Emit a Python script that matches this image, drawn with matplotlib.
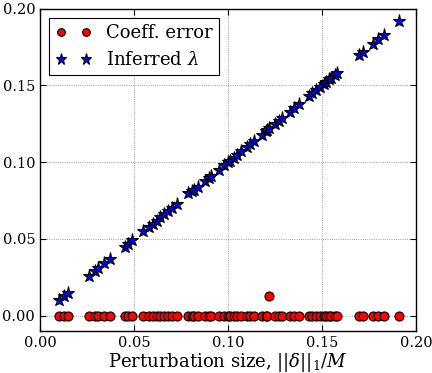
import matplotlib as mpl
mpl.use("Agg")
import matplotlib.pyplot as plt
import numpy as np

mpl.rcParams.update({
    "font.family": "serif",
    "font.serif": ["DejaVu Serif"],
    "mathtext.fontset": "dejavuserif",
    "xtick.direction": "in",
    "ytick.direction": "in",
    "xtick.top": True,
    "ytick.right": True,
    "xtick.major.size": 4,
    "ytick.major.size": 4,
    "axes.linewidth": 1.0,
})

# perturbation sizes ||delta||_1 / M
pert = [0.010, 0.013, 0.015, 0.026, 0.029, 0.031, 0.034, 0.037, 0.045, 0.047,
        0.049, 0.055, 0.058, 0.060, 0.062, 0.064, 0.066, 0.068, 0.070, 0.073,
        0.079, 0.081, 0.082, 0.084, 0.088, 0.090, 0.091, 0.095, 0.098, 0.100,
        0.101, 0.103, 0.105, 0.107, 0.110, 0.112, 0.114, 0.118, 0.120, 0.121,
        0.122, 0.125, 0.127, 0.129, 0.133, 0.135, 0.138, 0.143, 0.145, 0.147,
        0.149, 0.151, 0.152, 0.154, 0.155, 0.157, 0.158, 0.170, 0.172, 0.177,
        0.180, 0.183, 0.191]

# inferred lambda
lam = [0.010, 0.013, 0.015, 0.026, 0.029, 0.031, 0.034, 0.037, 0.045, 0.047,
       0.049, 0.055, 0.058, 0.060, 0.062, 0.064, 0.066, 0.068, 0.070, 0.073,
       0.080, 0.081, 0.082, 0.084, 0.088, 0.090, 0.091, 0.095, 0.098, 0.100,
       0.101, 0.103, 0.105, 0.107, 0.110, 0.112, 0.114, 0.118, 0.120, 0.121,
       0.122, 0.125, 0.127, 0.129, 0.133, 0.135, 0.138, 0.143, 0.145, 0.147,
       0.149, 0.151, 0.152, 0.154, 0.155, 0.157, 0.158, 0.170, 0.172, 0.177,
       0.180, 0.183, 0.192]

# coefficient error (all zero except one)
coeff_err = [0.0] * len(pert)
coeff_err[pert.index(0.122)] = 0.013

fig = plt.figure(figsize=(4.32, 3.73), dpi=100)
ax = fig.add_axes([0.0926, 0.1126, 0.870, 0.864])

ax.plot(pert, coeff_err, "o", color="red", mec="black", mew=0.8, ms=6.5,
        label="Coeff. error", zorder=3)
ax.plot(pert, lam, "*", color="blue", mec="black", mew=0.8, ms=9.5,
        label=r"Inferred $\lambda$", zorder=3)

ax.set_xlim(0.0, 0.20)
ax.set_ylim(-0.01, 0.20)
ax.set_xticks(np.arange(0, 0.201, 0.05))
ax.set_yticks(np.arange(0, 0.201, 0.05))
ax.tick_params(labelsize=10.5)
ax.xaxis.set_major_formatter(mpl.ticker.FormatStrFormatter("%.2f"))
ax.yaxis.set_major_formatter(mpl.ticker.FormatStrFormatter("%.2f"))

ax.grid(True, linestyle=":", color="black", linewidth=0.6, alpha=0.5)

ax.set_xlabel(r"Perturbation size, $||\delta||_1/M$", fontsize=13, labelpad=1)

leg = ax.legend(loc="upper left", numpoints=2, fontsize=13, fancybox=False,
                framealpha=1, edgecolor="black", borderaxespad=0.5,
                handletextpad=0.8, borderpad=0.35, markerscale=0.85)
leg.get_frame().set_linewidth(0.8)

fig.savefig("out.png", dpi=100)
